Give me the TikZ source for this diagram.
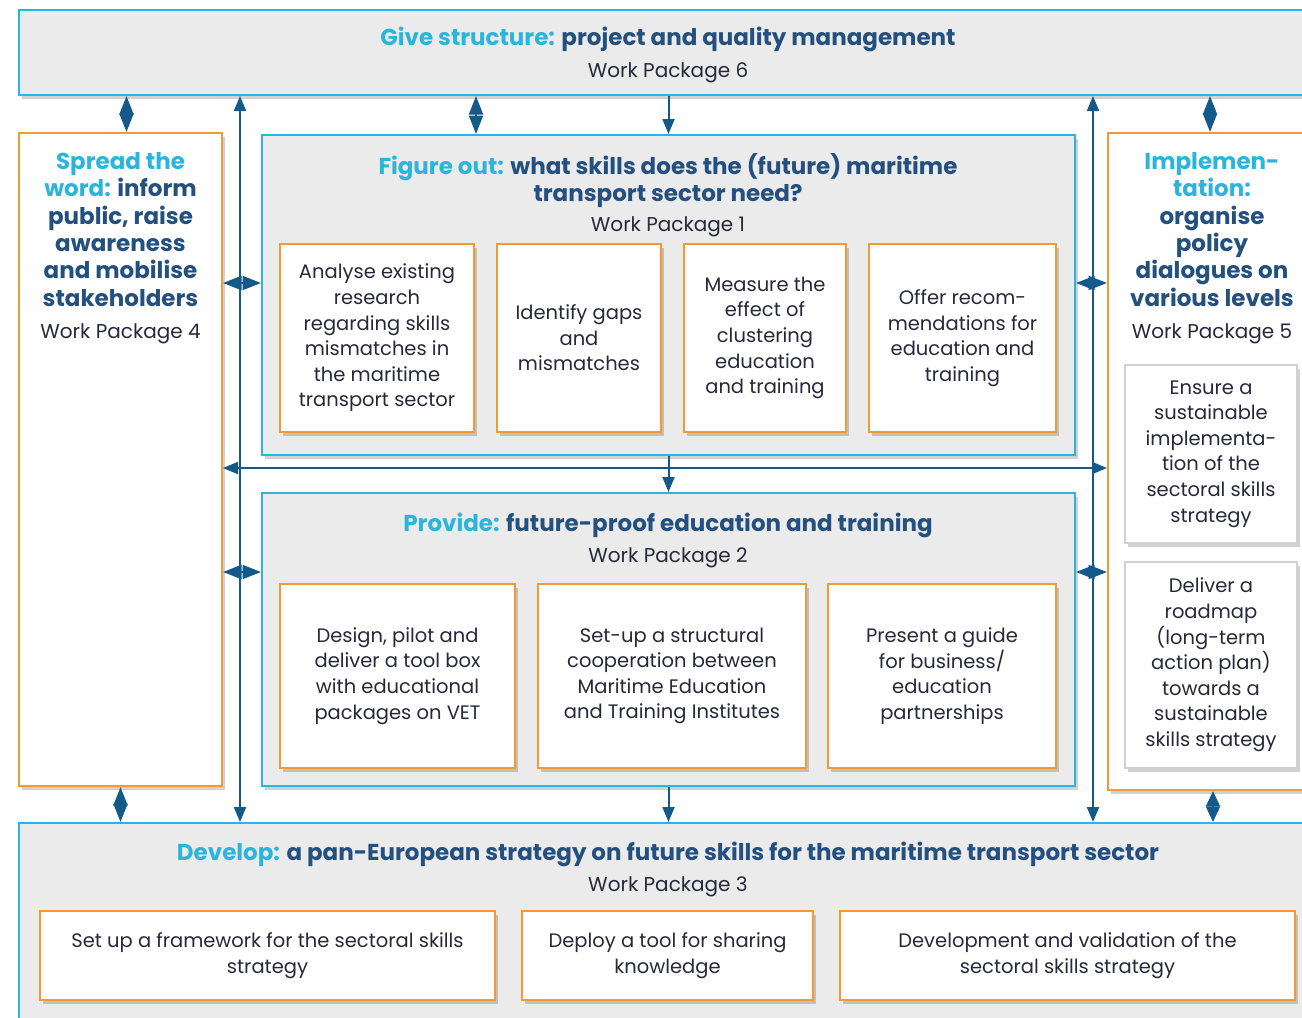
\documentclass[tikz,border=0pt]{standalone}
\usepackage{fontspec}
\setmainfont{Poppins}
\usetikzlibrary{arrows.meta, positioning, shadows}
\definecolor{wpcyan}{HTML}{2CB5DC}
\definecolor{wpblue}{HTML}{23507E}
\definecolor{wporange}{HTML}{F29A36}
\definecolor{wpgray}{HTML}{EBEBEB}
\definecolor{wptext}{HTML}{27283A}
\definecolor{wparrow}{HTML}{135A8A}
\newcommand{\hl}[1]{\textcolor{wpcyan}{#1}}
\tikzset{
  shade/.style = {drop shadow={shadow xshift=3pt, shadow yshift=-4pt,
    opacity=0.18, fill=black}},
  wpbox/.style = {draw=wpcyan, line width=2pt, fill=wpgray, inner sep=0pt,
    shade},
  sidebox/.style = {wpbox, draw=wporange, fill=white},
  task/.style = {draw=wporange, line width=2pt, fill=white, inner sep=0pt,
    align=center, text=wptext, font=\fontsize{19.5}{25.6}\selectfont, shade},
  subtask/.style = {task, draw=black!18},
  title/.style = {align=center, inner sep=0pt, text=wpblue,
    font=\fontsize{23}{27.4}\selectfont\bfseries},
  wplabel/.style = {inner sep=0pt, text=wptext,
    font=\fontsize{20}{24}\selectfont},
  link/.style = {draw=wparrow, line width=2pt},
  tip/.style = {-{Triangle[length=15pt, width=12pt]}},
  dtip/.style = {{Triangle[length=#1, width=14pt]}-{Triangle[length=#1, width=14pt]}},
  dtip/.default = 18.5pt
}
\begin{document}
\begin{tikzpicture}[x=1pt, y=-1pt]
\useasboundingbox (0,0) rectangle (1302,1018);

\node [wpbox, minimum width=1293pt, minimum height=85pt] (wp6) at (665.5,52.5) {};
\node [title, anchor=north] (wp6t) at (668,27) {\hl{Give structure:} project and quality management};
\node [wplabel, below=10pt of wp6t] {Work Package 6};

\node [sidebox, minimum width=203pt, minimum height=653pt] (wp4) at (120.5,459.5) {};
\node [title, anchor=north] (wp4t) at (120.5,152) {\hl{Spread the}\\ \hl{word:} inform\\ public, raise\\ awareness\\ and mobilise\\ stakeholders};
\node [wplabel, below=17pt of wp4t] {Work Package 4};

\node [sidebox, minimum width=204pt, minimum height=657pt] (wp5) at (1210,461.5) {};
\node [title, anchor=north] (wp5t) at (1212,152) {\hl{Implemen-}\\ \hl{tation:}\\ organise\\ policy\\ dialogues on\\ various levels};
\node [wplabel, below=17pt of wp5t] {Work Package 5};
\node [subtask, minimum width=172pt, minimum height=178pt] (s51) at (1211,454) {Ensure a\\ sustainable\\ implementa-\\ tion of the\\ sectoral skills\\ strategy};
\node [subtask, minimum width=172pt, minimum height=206pt] (s52) at (1211,665) {Deliver a\\ roadmap\\ (long-term\\ action plan)\\ towards a\\ sustainable\\ skills strategy};

\node [wpbox, minimum width=813pt, minimum height=320pt] (wp1) at (668.5,295) {};
\node [title, anchor=north] (wp1t) at (668,153) {\hl{Figure out:} what skills does the (future) maritime\\ transport sector need?};
\node [wplabel, below=9pt of wp1t] {Work Package 1};
\node [task, minimum width=194pt, minimum height=188pt] (t11) at (377,338) {Analyse existing\\ research\\ regarding skills\\ mismatches in\\ the maritime\\ transport sector};
\node [task, minimum width=164pt, minimum height=188pt] (t12) at (579,338) {Identify gaps\\ and\\ mismatches};
\node [task, minimum width=162pt, minimum height=188pt] (t13) at (765,338) {Measure the\\ effect of\\ clustering\\ education\\ and training};
\node [task, minimum width=187pt, minimum height=188pt] (t14) at (962.5,338) {Offer recom-\\ mendations for\\ education and\\ training};

\node [wpbox, minimum width=813pt, minimum height=293pt] (wp2) at (668.5,639.5) {};
\node [title, anchor=north] (wp2t) at (668,513) {\hl{Provide:} future-proof education and training};
\node [wplabel, below=9pt of wp2t] {Work Package 2};
\node [task, minimum width=235pt, minimum height=184pt] (t21) at (397.5,676) {Design, pilot and\\ deliver a tool box\\ with educational\\ packages on VET};
\node [task, minimum width=268pt, minimum height=184pt] (t22) at (672,676) {Set-up a structural\\ cooperation between\\ Maritime Education\\ and Training Institutes};
\node [task, minimum width=228pt, minimum height=184pt] (t23) at (942,676) {Present a guide\\ for business/\\ education\\ partnerships};

\node [wpbox, minimum width=1293pt, minimum height=207pt] (wp3) at (665.5,926.5) {};
\node [title, anchor=north] (wp3t) at (668,842) {\hl{Develop:} a pan-European strategy on future skills for the maritime transport sector};
\node [wplabel, below=9pt of wp3t] {Work Package 3};
\node [task, minimum width=455pt, minimum height=89pt] (t31) at (267.5,955.5) {Set up a framework for the sectoral skills\\ strategy};
\node [task, minimum width=291pt, minimum height=89pt] (t32) at (667.5,955.5) {Deploy a tool for sharing\\ knowledge};
\node [task, minimum width=455pt, minimum height=89pt] (t33) at (1067.5,955.5) {Development and validation of the\\ sectoral skills strategy};

\coordinate (lbus) at (240,468);
\coordinate (rbus) at (1093,468);

\draw [link, tip] (wp6.south -| wp1.north) -- (wp1.north);
\draw [link, tip] (wp1.south) -- (wp2.north);
\draw [link, tip] (wp2.south) -- (wp3.north -| wp2.south);
\draw [link, tip] (lbus) -- (wp6.south -| lbus);
\draw [link, tip] (lbus) -- (wp3.north -| lbus);
\draw [link, tip] (rbus) -- (wp6.south -| rbus);
\draw [link, tip] (rbus) -- (wp3.north -| rbus);
\draw [link, tip] (lbus) -- (wp4.east |- lbus);
\draw [link, tip] (rbus) -- (wp5.west |- rbus);
\draw [link] (lbus) -- (rbus);

\draw [link, dtip] ([xshift=6pt]wp4.north) -- ([xshift=6pt]wp4.north |- wp6.south);
\draw [link, dtip] (wp1.north -| 476,0) -- (wp6.south -| 476,0);
\draw [link, dtip] (wp5.north) -- (wp5.north |- wp6.south);
\draw [link, dtip] (wp4.south) -- (wp4.south |- wp3.north);
\draw [link, dtip=15.5pt] ([xshift=3pt]wp5.south) -- ([xshift=3pt]wp5.south |- wp3.north);
\draw [link, dtip] (wp4.east |- 0,283) -- (wp1.west |- 0,283);
\draw [link, dtip] (wp1.east |- 0,283) -- (wp5.west |- 0,283);
\draw [link, dtip] (wp4.east |- 0,572) -- (wp2.west |- 0,572);
\draw [link, dtip] (wp2.east |- 0,572) -- (wp5.west |- 0,572);
\end{tikzpicture}
\end{document}
